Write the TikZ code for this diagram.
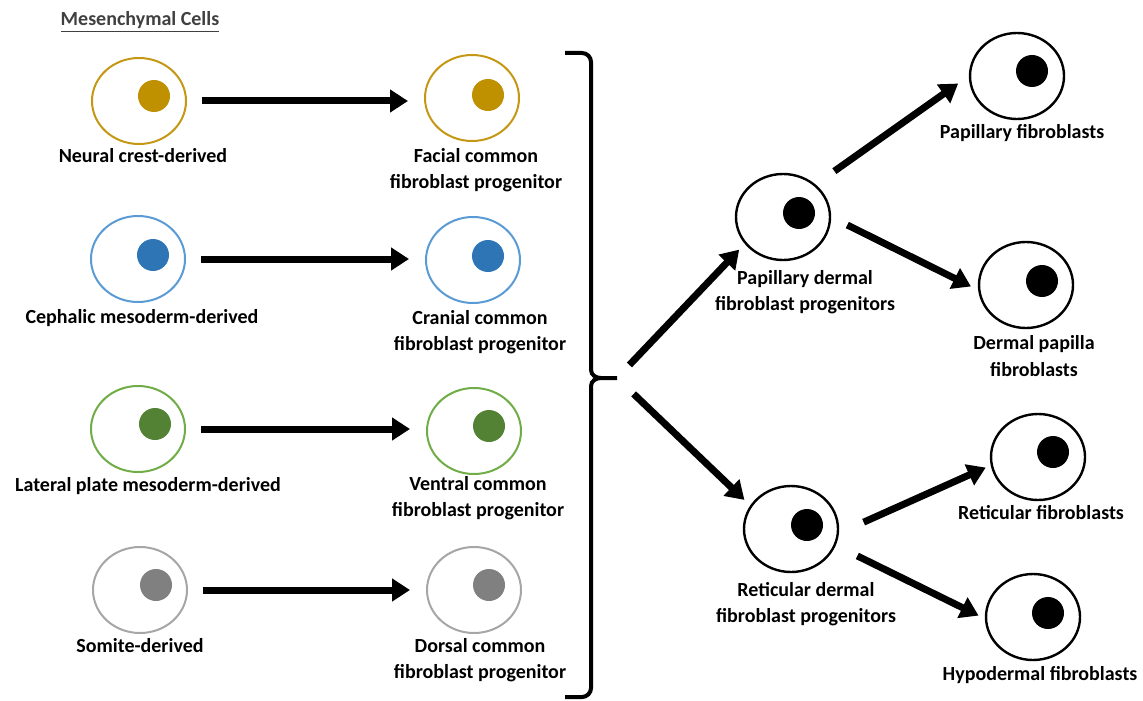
\documentclass[tikz,border=0pt]{standalone}
\usepackage{fontspec}
\setmainfont{Carlito}
\usetikzlibrary{shapes.geometric,arrows.meta}

\definecolor{goldline}{RGB}{196,152,20}
\definecolor{goldnuc}{RGB}{191,144,0}
\definecolor{blueline}{RGB}{91,155,213}
\definecolor{bluenuc}{RGB}{46,117,182}
\definecolor{greenline}{RGB}{112,173,71}
\definecolor{greennuc}{RGB}{84,130,53}
\definecolor{greyline}{RGB}{166,166,166}
\definecolor{greynuc}{RGB}{128,128,128}
\definecolor{titlegrey}{RGB}{64,64,64}

\tikzset{
    cellbody/.style={draw, ellipse, minimum width=47pt, minimum height=43pt, inner sep=0pt, line width=1pt},
    nucleus/.style={circle, minimum size=16pt, inner sep=0pt},
    caption/.style={align=center},
    flow/.style={line width=3.5pt, -{Triangle[length=9pt,width=11pt]}},
    bracket/.style={line width=2pt}
}

\begin{document}
\begin{tikzpicture}[x=0.5pt,y=-0.5pt, font={\fontsize{10pt}{13.3pt}\selectfont\bfseries}]
\useasboundingbox (0,0) rectangle (1143,700);

\node[text=titlegrey] (title) at (140,22) {\underline{Mesenchymal Cells}};

% mesenchymal origins
\node[cellbody, draw=goldline] (neural) at (139,101) {};
\node[nucleus, fill=goldnuc] (neural-nuc) at (154,96) {};
\node (neural-txt) at (143,156) {Neural crest-derived};

\node[cellbody, draw=blueline] (cephalic) at (138,259) {};
\node[nucleus, fill=bluenuc] (cephalic-nuc) at (153,255) {};
\node (cephalic-txt) at (142,318) {Cephalic mesoderm-derived};

\node[cellbody, draw=greenline] (lateral) at (138,429) {};
\node[nucleus, fill=greennuc] (lateral-nuc) at (155,424) {};
\node (lateral-txt) at (148,486) {Lateral plate mesoderm-derived};

\node[cellbody, draw=greyline] (somite) at (140,590) {};
\node[nucleus, fill=greynuc] (somite-nuc) at (156,585) {};
\node (somite-txt) at (140,646) {Somite-derived};

% common progenitors
\node[cellbody, draw=goldline] (facial) at (472,98) {};
\node[nucleus, fill=goldnuc] (facial-nuc) at (488,95) {};
\node[caption] (facial-txt) at (476,170) {Facial common\\fibroblast progenitor};

\node[cellbody, draw=blueline] (cranial) at (473,260) {};
\node[nucleus, fill=bluenuc] (cranial-nuc) at (488,256) {};
\node[caption] (cranial-txt) at (480,332) {Cranial common\\fibroblast progenitor};

\node[cellbody, draw=greenline] (ventral) at (474,431) {};
\node[nucleus, fill=greennuc] (ventral-nuc) at (489,426) {};
\node[caption] (ventral-txt) at (478,498) {Ventral common\\fibroblast progenitor};

\node[cellbody, draw=greyline] (dorsal) at (474,590) {};
\node[nucleus, fill=greynuc] (dorsal-nuc) at (489,585) {};
\node[caption] (dorsal-txt) at (480,660) {Dorsal common\\fibroblast progenitor};

\draw[flow, shorten <=7.5pt, shorten >=8pt] (neural.east) -- (neural.east -| facial.west);
\draw[flow, shorten <=7.5pt, shorten >=8pt] (cephalic.east) -- (cephalic.east -| cranial.west);
\draw[flow, shorten <=7.5pt, shorten >=8pt] (lateral.east) -- (lateral.east -| ventral.west);
\draw[flow, shorten <=7.5pt, shorten >=8pt] (somite.east) -- (somite.east -| dorsal.west);

% brace
\draw[bracket] (565,53) -- (582,53) to[out=0,in=90] (591,62) -- (591,370)
    to[out=-90,in=180] (601,378) -- (617,378) -- (601,378) to[out=180,in=90] (591,386)
    -- (591,688) to[out=-90,in=0] (582,697) -- (565,697);
\coordinate (tip) at (617,378);

% dermal progenitors
\node[cellbody, draw=black, line width=1.2pt] (papdp) at (783,217) {};
\node[nucleus, fill=black] (papdp-nuc) at (799,213) {};
\node[caption] (papdp-txt) at (805,292) {Papillary dermal\\fibroblast progenitors};

\node[cellbody, draw=black, line width=1.2pt] (retdp) at (791,529) {};
\node[nucleus, fill=black] (retdp-nuc) at (807,525) {};
\node[caption] (retdp-txt) at (806,604) {Reticular dermal\\fibroblast progenitors};

% fibroblast lineages
\node[cellbody, draw=black, line width=1.2pt] (papfib) at (1017,76) {};
\node[nucleus, fill=black] (papfib-nuc) at (1032,71) {};
\node (papfib-txt) at (1022,133) {Papillary fibroblasts};

\node[cellbody, draw=black, line width=1.2pt] (dermpap) at (1026,285) {};
\node[nucleus, fill=black] (dermpap-nuc) at (1042,281) {};
\node[caption] (dermpap-txt) at (1034,356) {Dermal papilla\\fibroblasts};

\node[cellbody, draw=black, line width=1.2pt] (retfib) at (1038,457) {};
\node[nucleus, fill=black] (retfib-nuc) at (1053,452) {};
\node (retfib-txt) at (1041,513) {Reticular fibroblasts};

\node[cellbody, draw=black, line width=1.2pt] (hypfib) at (1033,617) {};
\node[nucleus, fill=black] (hypfib-nuc) at (1048,613) {};
\node (hypfib-txt) at (1040,675) {Hypodermal fibroblasts};

\draw[flow, shorten <=9pt, shorten >=4pt] (tip) -- (papdp.215);
\draw[flow, shorten <=11.5pt, shorten >=4pt] (tip) -- (retdp.150);
\draw[flow, shorten <=11.5pt, shorten >=6.5pt] (papdp.45) -- (papfib.180);
\draw[flow, shorten <=9pt, shorten >=4pt] (papdp.0) -- (dermpap.186);
\draw[flow, shorten <=13.5pt, shorten >=2.7pt] (retdp.355) -- (retfib.190);
\draw[flow, shorten <=12pt, shorten >=3.5pt] (retdp.340) -- (hypfib.182);

\end{tikzpicture}
\end{document}
